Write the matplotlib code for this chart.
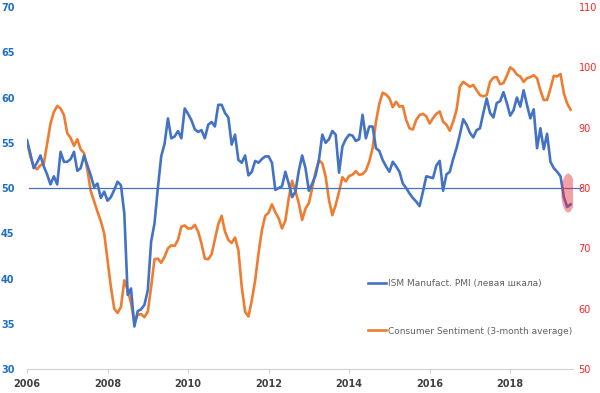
import numpy as np
import matplotlib
matplotlib.use("Agg")
import matplotlib.pyplot as plt
from matplotlib.patches import Ellipse

# monthly data, Jan 2006 - Jul 2019
ism_pmi = [
    55.3, 53.8, 52.2, 52.8, 53.6, 52.4, 51.5, 50.4, 51.3, 50.4, 54.0, 52.9,
    52.9, 53.2, 54.0, 51.9, 52.2, 53.6, 52.5, 51.4, 50.1, 50.5, 48.9, 49.6,
    48.6, 49.0, 49.8, 50.7, 50.3, 47.2, 38.2, 38.9, 34.7, 36.4, 36.6, 37.1,
    38.7, 44.1, 46.1, 50.0, 53.5, 54.9, 57.7, 55.5, 55.7, 56.3, 55.5, 58.8,
    58.2, 57.5, 56.5, 56.2, 56.4, 55.5, 57.0, 57.3, 56.8, 59.2, 59.2, 58.3,
    57.8, 54.8, 55.9, 53.1, 52.8, 53.6, 51.4, 51.8, 53.0, 52.8, 53.2, 53.5,
    53.5, 52.8, 49.8, 50.0, 50.2, 51.8, 50.5, 49.0, 49.6, 51.9, 53.6, 52.2,
    49.7, 50.5, 51.4, 53.1, 55.9, 55.0, 55.4, 56.3, 55.9, 51.7, 54.6, 55.4,
    55.9, 55.8, 55.2, 55.4, 58.1, 55.5, 56.8, 56.8, 54.4, 54.1, 53.1, 52.4,
    51.8, 52.9, 52.4, 51.8, 50.5, 50.0, 49.4, 48.9, 48.5, 48.0, 49.6, 51.3,
    51.2, 51.1, 52.5, 53.0, 49.7, 51.5, 51.8, 53.2, 54.4, 55.9, 57.6, 57.0,
    56.1, 55.6, 56.4, 56.6, 58.3, 59.9, 58.3, 57.8, 59.4, 59.6, 60.6, 59.4,
    58.0, 58.6, 60.0, 59.0, 60.8, 59.2, 57.7, 58.7, 54.4, 56.6, 54.3, 56.0,
    52.9, 52.2, 51.8, 51.3, 49.0, 47.9, 48.2,
]
sentiment = [
    87.7, 85.2, 83.6, 83.1, 83.8, 84.0, 87.4, 90.7, 92.6, 93.6, 93.2, 92.1,
    89.1, 88.3, 87.0, 88.1, 86.4, 85.8, 83.0, 79.5, 77.8, 76.1, 74.5, 72.5,
    68.1, 63.6, 60.0, 59.3, 60.3, 64.7, 63.1, 60.9, 57.7, 59.0, 59.1, 58.6,
    59.5, 63.6, 68.2, 68.3, 67.6, 68.6, 70.0, 70.5, 70.4, 71.4, 73.6, 73.8,
    73.3, 73.3, 73.9, 72.8, 70.8, 68.3, 68.2, 69.0, 71.5, 74.0, 75.4, 72.8,
    71.4, 70.9, 71.8, 69.7, 63.6, 59.5, 58.7, 61.4, 64.7, 69.2, 73.0, 75.4,
    75.9, 77.3, 76.0, 75.0, 73.3, 74.6, 78.3, 81.2, 79.5, 77.5, 74.7, 76.6,
    77.5, 80.0, 82.7, 84.6, 84.1, 81.9, 78.0, 75.5, 77.2, 79.4, 81.8, 81.1,
    82.0, 82.2, 82.8, 82.2, 82.3, 82.9, 84.4, 86.6, 91.0, 94.0, 95.8, 95.5,
    94.9, 93.4, 94.3, 93.5, 93.6, 91.3, 89.9, 89.7, 91.3, 92.1, 92.3, 91.9,
    90.7, 91.6, 92.3, 92.7, 91.0, 90.5, 89.5, 91.0, 92.9, 96.8, 97.6, 97.2,
    96.8, 97.1, 96.2, 95.4, 95.2, 95.4, 97.6, 98.3, 98.4, 97.2, 97.4, 98.6,
    100.0, 99.6, 98.8, 98.5, 97.6, 98.2, 98.4, 98.7, 98.2, 96.2, 94.6, 94.6,
    96.5, 98.6, 98.5, 98.9, 95.7, 94.0, 93.0,
]
years = 2006 + np.arange(len(ism_pmi)) / 12.0

x_ticks = [2006, 2008, 2010, 2012, 2014, 2016, 2018]
left_ticks = [30, 35, 40, 45, 50, 55, 60, 65, 70]
right_ticks = [50, 60, 70, 80, 90, 100, 110]

blue = "#4472C4"
orange = "#ED7D31"

fig = plt.figure(figsize=(6, 3.93), dpi=100)
ax = fig.add_axes([0.045, 0.061, 0.91, 0.921])
ax2 = ax.twinx()

ax.plot([2006.05, 2019.75], [50, 50], color=blue, lw=0.9, clip_on=False, zorder=1)
l1, = ax.plot(years, ism_pmi, color=blue, lw=1.9, zorder=3,
              label="ISM Manufact. PMI (левая шкала)")
l2, = ax2.plot(years, sentiment, color=orange, lw=1.9, zorder=2,
               label="Consumer Sentiment (3-month average)")

ax.set_xlim(2006, 2019.56)
ax.set_ylim(30, 70)
ax2.set_ylim(50, 110)

ax.set_xticks(x_ticks)
ax.set_yticks(left_ticks)
ax2.set_yticks(right_ticks)

for a in (ax, ax2):
    for s in ("top", "left", "right"):
        a.spines[s].set_visible(False)
ax2.spines["bottom"].set_visible(False)
ax.spines["bottom"].set_color("#d0d0d0")
ax.spines["bottom"].set_linewidth(0.8)

ax.tick_params(axis="x", length=3, color="#d0d0d0", pad=4,
               labelsize=7, labelcolor="#404040")
for t in ax.get_xticklabels():
    t.set_fontweight("bold")
ax.tick_params(axis="y", length=0, pad=9, labelsize=7, labelcolor="#1F6FC5")
for t in ax.get_yticklabels():
    t.set_fontweight("bold")
ax2.tick_params(axis="y", length=0, pad=4, labelsize=7, labelcolor="#FF2020")

# highlight of the latest readings
ell = Ellipse((2019.44, 49.45), 0.34, 4.3, color="#E8303A", alpha=0.45,
              lw=0, zorder=5)
ax.add_patch(ell)

ax.set_zorder(ax2.get_zorder() + 1)
ax.patch.set_visible(False)

leg = ax.legend(handles=[l1, l2], loc="upper left",
                bbox_to_anchor=(0.617, 0.262), frameon=False,
                fontsize=6.5, labelspacing=4.3, handlelength=1.9,
                handletextpad=0.3, borderpad=0)
for t in leg.get_texts():
    t.set_color("#606060")

fig.savefig("out.png", dpi=100)
